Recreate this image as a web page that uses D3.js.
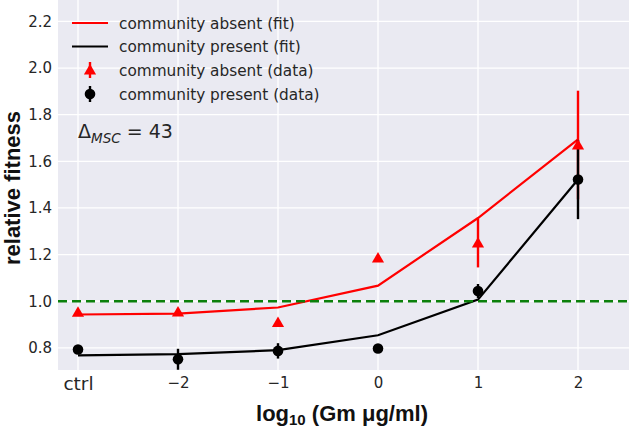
<!DOCTYPE html>
<html>
<head>
<meta charset="utf-8">
<script src="https://cdn.jsdelivr.net/npm/d3@7"></script>
<style>
  html, body { margin: 0; padding: 0; background: #fff; }
  svg { display: block; }
</style>
</head>
<body>
<svg id="chart" width="629" height="430"></svg>
<script>
// ---- data ----
const xValues = [-3, -2, -1, 0, 1, 2];
const xTickLabels = ["ctrl", "\u22122", "\u22121", "0", "1", "2"];
const yTicks = [0.8, 1.0, 1.2, 1.4, 1.6, 1.8, 2.0, 2.2];
const absentFit = [0.943, 0.947, 0.973, 1.067, 1.357, 1.694];
const presentFit = [0.768, 0.773, 0.790, 0.854, 1.007, 1.522];
const absentData = [0.953, 0.954, 0.909, 1.185, 1.250, 1.670];
const absentErr = [0.010, 0.010, 0.010, 0.012, 0.105, 0.233];
const presentData = [0.793, 0.751, 0.787, 0.797, 1.044, 1.522];
const presentErr = [0.010, 0.045, 0.033, 0.010, 0.030, 0.170];
const refLine = 1.0;
const legendLabels = ["community absent (fit)", "community present (fit)",
                      "community absent (data)", "community present (data)"];

// ---- layout ----
const svg = d3.select("#chart");
const pL = 58, pR = 629, pT = 0, pB = 370;
const x = d3.scaleLinear().domain([-3.2, 2.51]).range([pL, pR]);
const y = d3.scaleLinear().domain([0.705, 2.292]).range([pB, pT]);
const RED = "#ff0000", BLACK = "#000000", GREEN = "#0b800b", TXT = "#262626";

svg.append("rect").attr("x", pL).attr("y", pT)
  .attr("width", pR - pL).attr("height", pB - pT).attr("fill", "#eaeaf2");

// grid
const grid = svg.append("g");
grid.selectAll(".gx").data(xValues).join("line")
  .attr("x1", d => x(d)).attr("x2", d => x(d)).attr("y1", pT).attr("y2", pB)
  .attr("stroke", "#fff").attr("stroke-width", 1.3);
grid.selectAll(".gy").data(yTicks).join("line")
  .attr("x1", pL).attr("x2", pR).attr("y1", d => y(d)).attr("y2", d => y(d))
  .attr("stroke", "#fff").attr("stroke-width", 1.3);

// axes (labels only)
const yAxis = d3.axisLeft(y).tickValues(yTicks).tickFormat(d3.format(".1f")).tickSize(0).tickPadding(6);
const gy = svg.append("g").attr("transform", `translate(${pL},0)`).call(yAxis);
gy.select(".domain").remove();
gy.selectAll("text").attr("font-family", "DejaVu Sans").attr("font-size", 15).attr("fill", TXT);

const xAxis = d3.axisBottom(x).tickValues(xValues).tickFormat((d, i) => xTickLabels[i]).tickSize(0).tickPadding(7);
const gx = svg.append("g").attr("transform", `translate(0,${pB})`).call(xAxis);
gx.select(".domain").remove();
gx.selectAll("text").attr("font-family", "DejaVu Sans").attr("fill", TXT)
  .attr("font-size", (d, i) => i === 0 ? 18.5 : 15);

// fit lines
const line = d3.line().x((d, i) => x(xValues[i])).y(d => y(d));
svg.append("path").datum(absentFit).attr("d", line).attr("fill", "none")
  .attr("stroke", RED).attr("stroke-width", 2.2);
svg.append("path").datum(presentFit).attr("d", line).attr("fill", "none")
  .attr("stroke", BLACK).attr("stroke-width", 2.2);

// reference dashed line
svg.append("line").attr("x1", pL).attr("x2", pR)
  .attr("y1", y(refLine)).attr("y2", y(refLine))
  .attr("stroke", GREEN).attr("stroke-width", 2.4).attr("stroke-dasharray", "9,5");

// error bars
function bars(vals, errs, color) {
  svg.append("g").selectAll("line").data(vals).join("line")
    .attr("x1", (d, i) => x(xValues[i])).attr("x2", (d, i) => x(xValues[i]))
    .attr("y1", (d, i) => y(d - errs[i])).attr("y2", (d, i) => y(d + errs[i]))
    .attr("stroke", color).attr("stroke-width", 2.4);
}
bars(absentData, absentErr, RED);
bars(presentData, presentErr, BLACK);

// markers
const tri = d3.symbol().type(d3.symbolTriangle).size(64);
svg.append("g").selectAll("path").data(absentData).join("path")
  .attr("d", tri)
  .attr("transform", (d, i) => `translate(${x(xValues[i])},${y(d) + 1})`)
  .attr("fill", RED);
svg.append("g").selectAll("circle").data(presentData).join("circle")
  .attr("cx", (d, i) => x(xValues[i])).attr("cy", d => y(d)).attr("r", 5.3)
  .attr("fill", BLACK);

// legend
const lg = svg.append("g");
const rowY = [23, 46.5, 70, 94];
const hx0 = 72, hx1 = 108, hxm = 90, tx = 119;
lg.append("line").attr("x1", hx0).attr("x2", hx1).attr("y1", rowY[0]).attr("y2", rowY[0])
  .attr("stroke", RED).attr("stroke-width", 2.2);
lg.append("line").attr("x1", hx0).attr("x2", hx1).attr("y1", rowY[1]).attr("y2", rowY[1])
  .attr("stroke", BLACK).attr("stroke-width", 2.2);
lg.append("line").attr("x1", hxm).attr("x2", hxm).attr("y1", rowY[2] - 8).attr("y2", rowY[2] + 8)
  .attr("stroke", RED).attr("stroke-width", 2.4);
lg.append("path").attr("d", tri).attr("transform", `translate(${hxm},${rowY[2] + 1})`).attr("fill", RED);
lg.append("line").attr("x1", hxm).attr("x2", hxm).attr("y1", rowY[3] - 8).attr("y2", rowY[3] + 8)
  .attr("stroke", BLACK).attr("stroke-width", 2.4);
lg.append("circle").attr("cx", hxm).attr("cy", rowY[3]).attr("r", 5.3).attr("fill", BLACK);
lg.selectAll("text").data(legendLabels).join("text")
  .attr("x", tx).attr("y", (d, i) => rowY[i]).attr("dy", "0.36em")
  .attr("font-family", "DejaVu Sans").attr("font-size", 15.3).attr("fill", TXT)
  .text(d => d);

// delta annotation
const dt = svg.append("text").attr("x", 78).attr("y", 138)
  .attr("font-family", "DejaVu Sans").attr("font-size", 19).attr("fill", TXT);
dt.append("tspan").text("\u0394");
dt.append("tspan").attr("font-style", "italic").attr("font-size", 13.5).attr("dy", 5).text("MSC");
dt.append("tspan").attr("dy", -5).text(" = 43");

// axis titles
const xl = svg.append("text").attr("x", 342).attr("y", 421).attr("text-anchor", "middle")
  .attr("font-family", "Liberation Sans").attr("font-weight", "bold").attr("font-size", 22).attr("fill", "#111");
xl.append("tspan").text("log");
xl.append("tspan").attr("font-size", 15).attr("dy", 4).text("10");
xl.append("tspan").attr("dy", -4).text(" (Gm \u03bcg/ml)");

svg.append("text").attr("transform", `translate(20,188) rotate(-90)`).attr("text-anchor", "middle")
  .attr("font-family", "Liberation Sans").attr("font-weight", "bold").attr("font-size", 22).attr("fill", "#111")
  .text("relative fitness");
</script>
</body>
</html>
